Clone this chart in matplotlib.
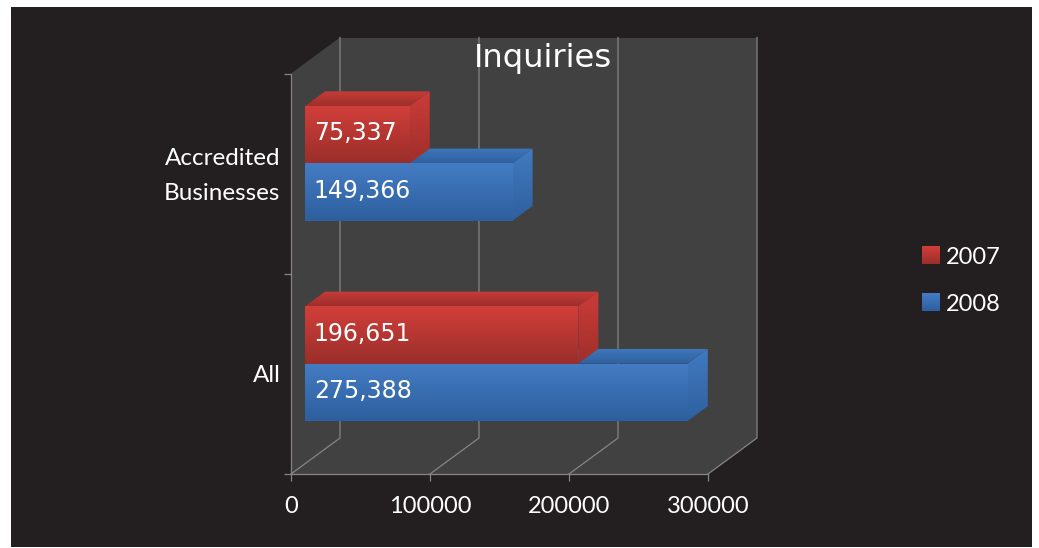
# 3d looking horizontal bars, drawn by hand on a normal axes
import numpy as np
import matplotlib
matplotlib.use('Agg')
import matplotlib.pyplot as plt
from matplotlib.patches import Polygon, Rectangle
from matplotlib.colors import to_rgb

categories = ['All', 'Accredited\nBusinesses']
years = ['2007', '2008']
values_2007 = [196651, 75337]
values_2008 = [275388, 149366]
x_ticks = [0, 100000, 200000, 300000]

W, H = 1039, 548
BG = '#231f20'
WALL = '#414141'
LINE = '#858585'
# depth direction in data units (z=1 is the back wall)
DX = 49 / 139 * 100000
DY = 36 / 200.25
Z0, Z1 = 14 / 49, 34 / 49
BAR_H = 0.286
RED = {'front': ('#d23f3a', '#9a2e2a'), 'top': ('#c73c38', '#9e2f2b'), 'side': ('#cb3c38', '#9f2f2b')}
BLUE = {'front': ('#447cc3', '#2d5f9e'), 'top': ('#3d76bb', '#30619f'), 'side': ('#417ac0', '#2e609e')}

plt.rcParams['font.family'] = 'Lato'
fig = plt.figure(figsize=(W / 100, H / 100), dpi=100, facecolor='white')
fig.add_artist(Rectangle((11 / W, 1 / H), 1021 / W, 540 / H, transform=fig.transFigure,
                         fc=BG, ec='none', zorder=-1))

ax = fig.add_axes([291 / W, 74 / H, 417 / W, 400.5 / H])
ax.patch.set_visible(False)
ax.set_xlim(0, 300000)
ax.set_ylim(0, 2)
ax.set_autoscale_on(False)


def proj(x, y, z):
    return (x + z * DX, y + z * DY)


def grad(c1, c2):
    return np.linspace(to_rgb(c1), to_rgb(c2), 64)[:, None, :]


def face(pts, colors, zorder):
    # polygon filled with a vertical gradient
    pts = np.array(pts)
    poly = Polygon(pts, closed=True, transform=ax.transData, fc='none', ec='none')
    im = ax.imshow(grad(*colors), aspect='auto', zorder=zorder, interpolation='bilinear',
                   extent=(pts[:, 0].min(), pts[:, 0].max(), pts[:, 1].min(), pts[:, 1].max()))
    im.set_clip_path(poly)
    im.set_clip_box(fig.bbox)


def bar(v, y0, y1, cols, zorder):
    face([proj(0, y0, Z0), proj(v, y0, Z0), proj(v, y1, Z0), proj(0, y1, Z0)], cols['front'], zorder + .2)
    face([proj(0, y1, Z0), proj(v, y1, Z0), proj(v, y1, Z1), proj(0, y1, Z1)], cols['top'], zorder)
    face([proj(v, y0, Z0), proj(v, y1, Z0), proj(v, y1, Z1), proj(v, y0, Z1)], cols['side'], zorder + .1)


# walls and floor
ax.add_patch(Polygon([proj(0, 0, 1), proj(300000, 0, 1), proj(300000, 2, 1), proj(0, 2, 1)],
                     fc=WALL, ec='none', clip_on=False, zorder=0.5))
ax.add_patch(Polygon([proj(0, 0, 0), proj(0, 2, 0), proj(0, 2, 1), proj(0, 0, 1)],
                     fc=WALL, ec='none', clip_on=False, zorder=0.5))
ax.add_patch(Polygon([proj(0, 0, 0), proj(300000, 0, 0), proj(300000, 0, 1), proj(0, 0, 1)],
                     fc=WALL, ec='none', clip_on=False, zorder=0.5))

# gridlines go along the floor then up the back wall
for t in x_ticks:
    xs, ys = zip(proj(t, 0, 0), proj(t, 0, 1), proj(t, 2, 1))
    ax.plot(xs, ys, color=LINE, lw=0.9, clip_on=False, zorder=0.6)

for i, cat in enumerate(categories):
    c = i + 0.5
    bar(values_2008[i], c - BAR_H, c, BLUE, 2)
    bar(values_2007[i], c, c + BAR_H, RED, 3)
    for v, yc in ((values_2007[i], c + BAR_H / 2), (values_2008[i], c - BAR_H / 2)):
        ax.annotate(f'{v:,}', proj(0, yc, Z0), xytext=(6.3, -4), textcoords='offset points',
                    ha='left', va='baseline', color='white', fontsize=17,
                    family='DejaVu Sans', zorder=6, annotation_clip=False)
    ax.annotate(cat, (0, c), xytext=(-7.5, -1.5), textcoords='offset points',
                ha='right', va='center', multialignment='right', linespacing=1.8,
                color='white', fontsize=17.5, annotation_clip=False)

ax.set_xticks(x_ticks)
ax.set_xticklabels([str(t) for t in x_ticks])
ax.set_yticks([0, 1, 2])
ax.set_yticklabels([])
ax.tick_params(axis='x', length=5, width=0.9, color=LINE, labelcolor='white', labelsize=17, pad=11)
ax.tick_params(axis='y', length=5, width=0.9, color=LINE)
for s in ('top', 'right'):
    ax.spines[s].set_visible(False)
for s in ('left', 'bottom'):
    ax.spines[s].set_color(LINE)
    ax.spines[s].set_linewidth(0.9)

fig.text(543 / W, 1 - 58 / H, 'Inquiries', color='white', fontsize=23.2, family='DejaVu Sans',
         ha='center', va='center', zorder=7)

# legend
for yr, cols, ytop in zip(years, (RED, BLUE), (246, 293)):
    sw = fig.add_axes([922 / W, 1 - (ytop + 18) / H, 18 / W, 18 / H])
    sw.imshow(grad(*cols['front']), aspect='auto', interpolation='bilinear')
    sw.axis('off')
    fig.text(946 / W, 1 - (ytop + 18) / H, yr, color='white', fontsize=17, ha='left', va='baseline')

plt.savefig('out.png', dpi=100)
